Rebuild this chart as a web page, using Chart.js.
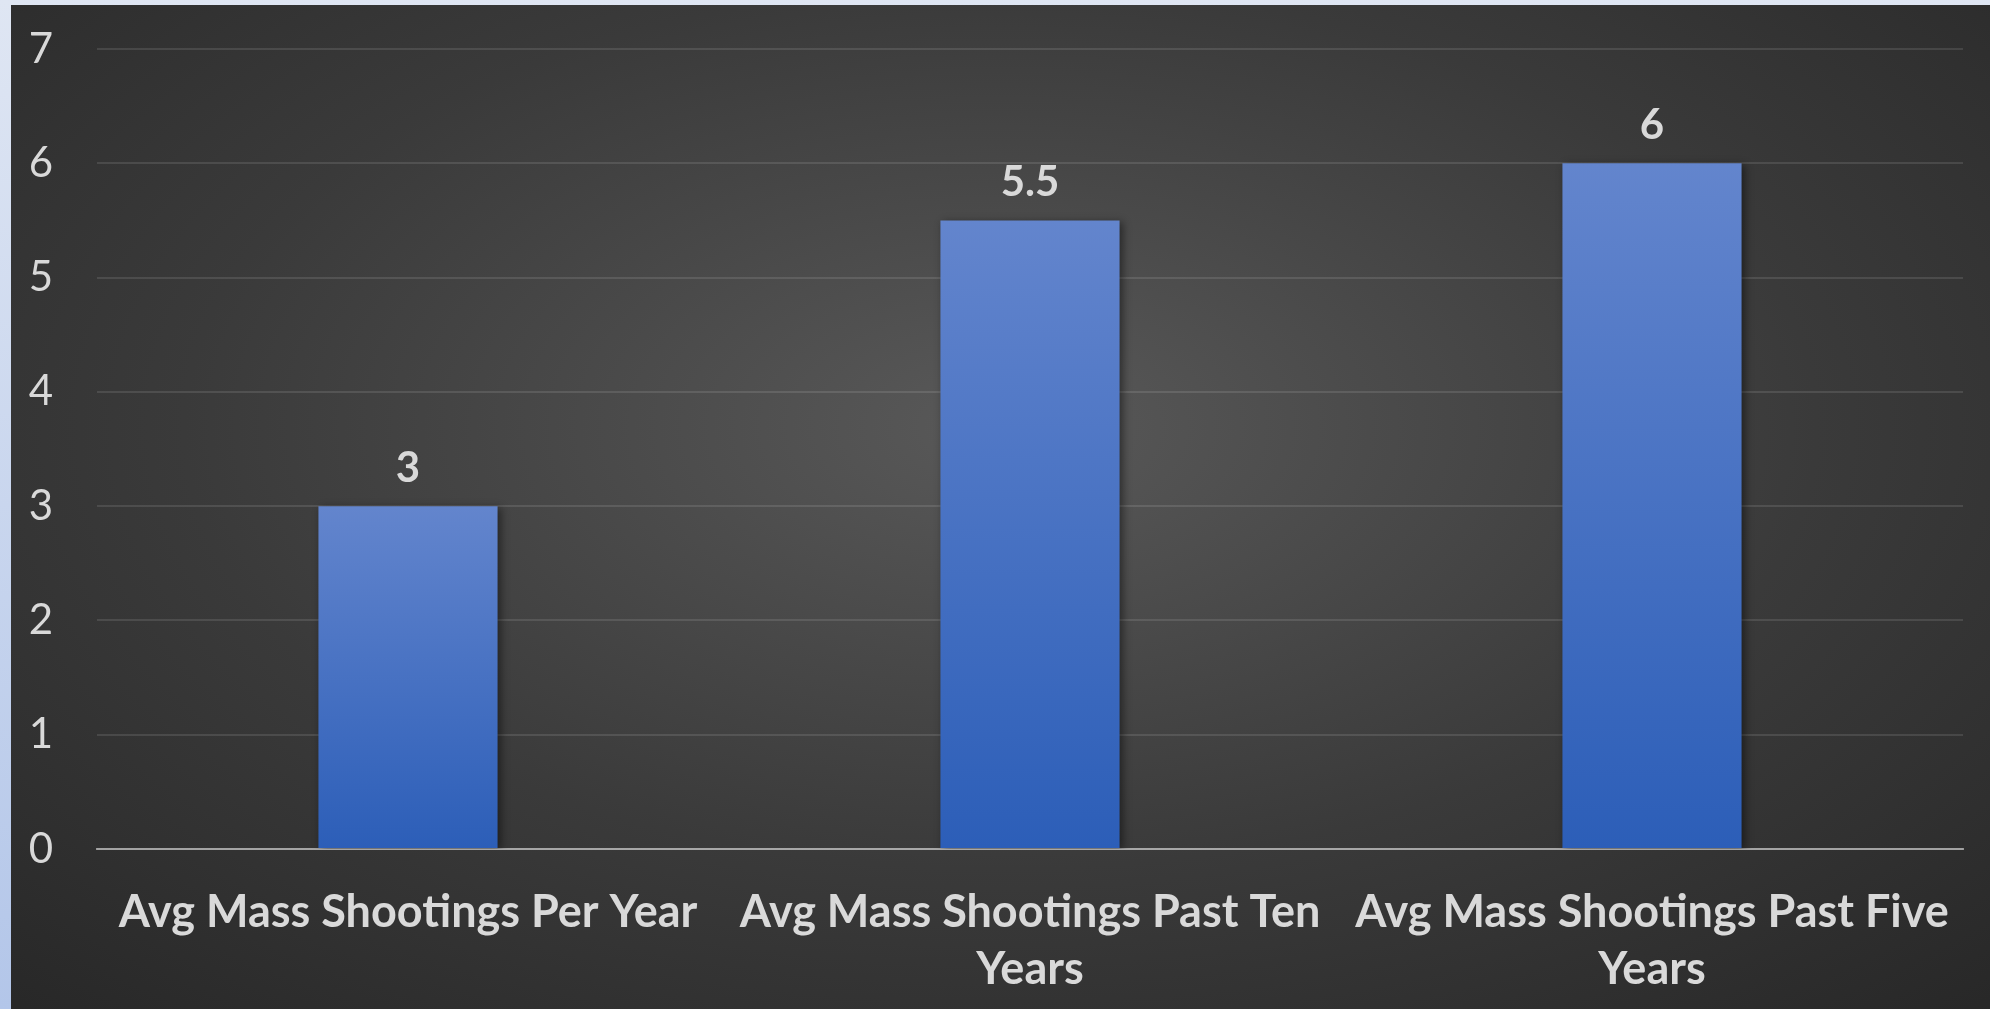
<!DOCTYPE html>
<html lang="en">
<head>
    <meta charset="UTF-8">
    <title>Avg Mass Shootings</title>
    <script src="https://cdn.jsdelivr.net/npm/chart.js"></script>
    <style>
        html, body { margin: 0; padding: 0; width: 1990px; height: 1009px; overflow: hidden; }
        body { background: linear-gradient(to bottom, #dfe6f3, #b3c6e9); }
        #box {
            position: absolute; left: 11px; top: 5px; width: 1979px; height: 1004px;
            background: radial-gradient(ellipse 75% 80% at 50% 42%, #595959 0%, #3a3a3a 55%, #272727 100%);
        }
    </style>
</head>
<body>
    <div id="box">
        <canvas id="myChart"></canvas>
    </div>
    <script>
        // categories and values
        const categories = [
            'Avg Mass Shootings Per Year',
            ['Avg Mass Shootings Past Ten', 'Years'],
            ['Avg Mass Shootings Past Five', 'Years']
        ];
        const values = [3, 5.5, 6];
        const yTicks = [0, 1, 2, 3, 4, 5, 6, 7];

        const textColor = '#d9d9d9';
        const tickPad = 35;
        const lineH = 57;

        // gradient per bar, from its own top to the axis
        function barFill(context) {
            const chart = context.chart;
            const y = chart.scales.y;
            if (!y || !chart.chartArea) return '#4a72c4';
            const top = y.getPixelForValue(context.raw);
            const bottom = y.getPixelForValue(0);
            const g = chart.ctx.createLinearGradient(0, top, 0, bottom);
            g.addColorStop(0, '#6385cd');
            g.addColorStop(1, '#2c5eb8');
            return g;
        }

        // value labels over the bars + soft shadow behind them
        const valueLabels = {
            id: 'valueLabels',
            beforeDatasetsDraw(chart) {
                const ctx = chart.ctx;
                ctx.save();
                ctx.shadowColor = 'rgba(0,0,0,0.45)';
                ctx.shadowBlur = 8;
                ctx.shadowOffsetX = 3;
                ctx.shadowOffsetY = 2;
            },
            afterDatasetsDraw(chart) {
                const ctx = chart.ctx;
                ctx.restore();
                ctx.save();
                ctx.font = 'bold 42px Lato';
                ctx.fillStyle = textColor;
                ctx.textAlign = 'center';
                ctx.textBaseline = 'alphabetic';
                chart.getDatasetMeta(0).data.forEach((bar, i) => {
                    ctx.fillText(String(values[i]), bar.x, bar.y - 24);
                });
                ctx.restore();
            }
        };

        const ctx = document.getElementById('myChart').getContext('2d');
        new Chart(ctx, {
            type: 'bar',
            data: {
                labels: categories,
                datasets: [{
                    data: values,
                    backgroundColor: barFill,
                    borderWidth: 0,
                    barPercentage: 0.288 / 0.8,
                    categoryPercentage: 0.8
                }]
            },
            options: {
                responsive: true,
                maintainAspectRatio: false,
                animation: false,
                layout: {
                    padding: { left: 18, right: 27, top: 44, bottom: 160 - (tickPad + 2 * lineH) }
                },
                plugins: {
                    legend: { display: false },
                    tooltip: { enabled: false }
                },
                scales: {
                    x: {
                        z: 1,
                        grid: { display: false, drawTicks: false },
                        border: { display: true, color: 'rgba(255,255,255,0.5)', width: 2 },
                        ticks: {
                            color: textColor,
                            padding: tickPad,
                            maxRotation: 0,
                            autoSkip: false,
                            font: { family: 'Lato', size: 45, weight: 'bold', lineHeight: lineH / 45 }
                        },
                        afterFit(scale) {
                            scale.paddingLeft = 0;
                            scale.paddingRight = 0;
                            scale.height = tickPad + 2 * lineH;
                        }
                    },
                    y: {
                        min: 0,
                        max: 7,
                        afterBuildTicks(scale) {
                            scale.ticks = yTicks.map(v => ({ value: v }));
                        },
                        grid: { color: 'rgba(255,255,255,0.11)', lineWidth: 2, drawTicks: false },
                        border: { display: false },
                        ticks: {
                            color: textColor,
                            padding: 44,
                            font: { family: 'Lato', size: 42 }
                        },
                        afterFit(scale) {
                            scale.paddingTop = 0;
                            scale.paddingBottom = 0;
                            scale.width = 68;
                        }
                    }
                }
            },
            plugins: [valueLabels]
        });
    </script>
</body>
</html>
